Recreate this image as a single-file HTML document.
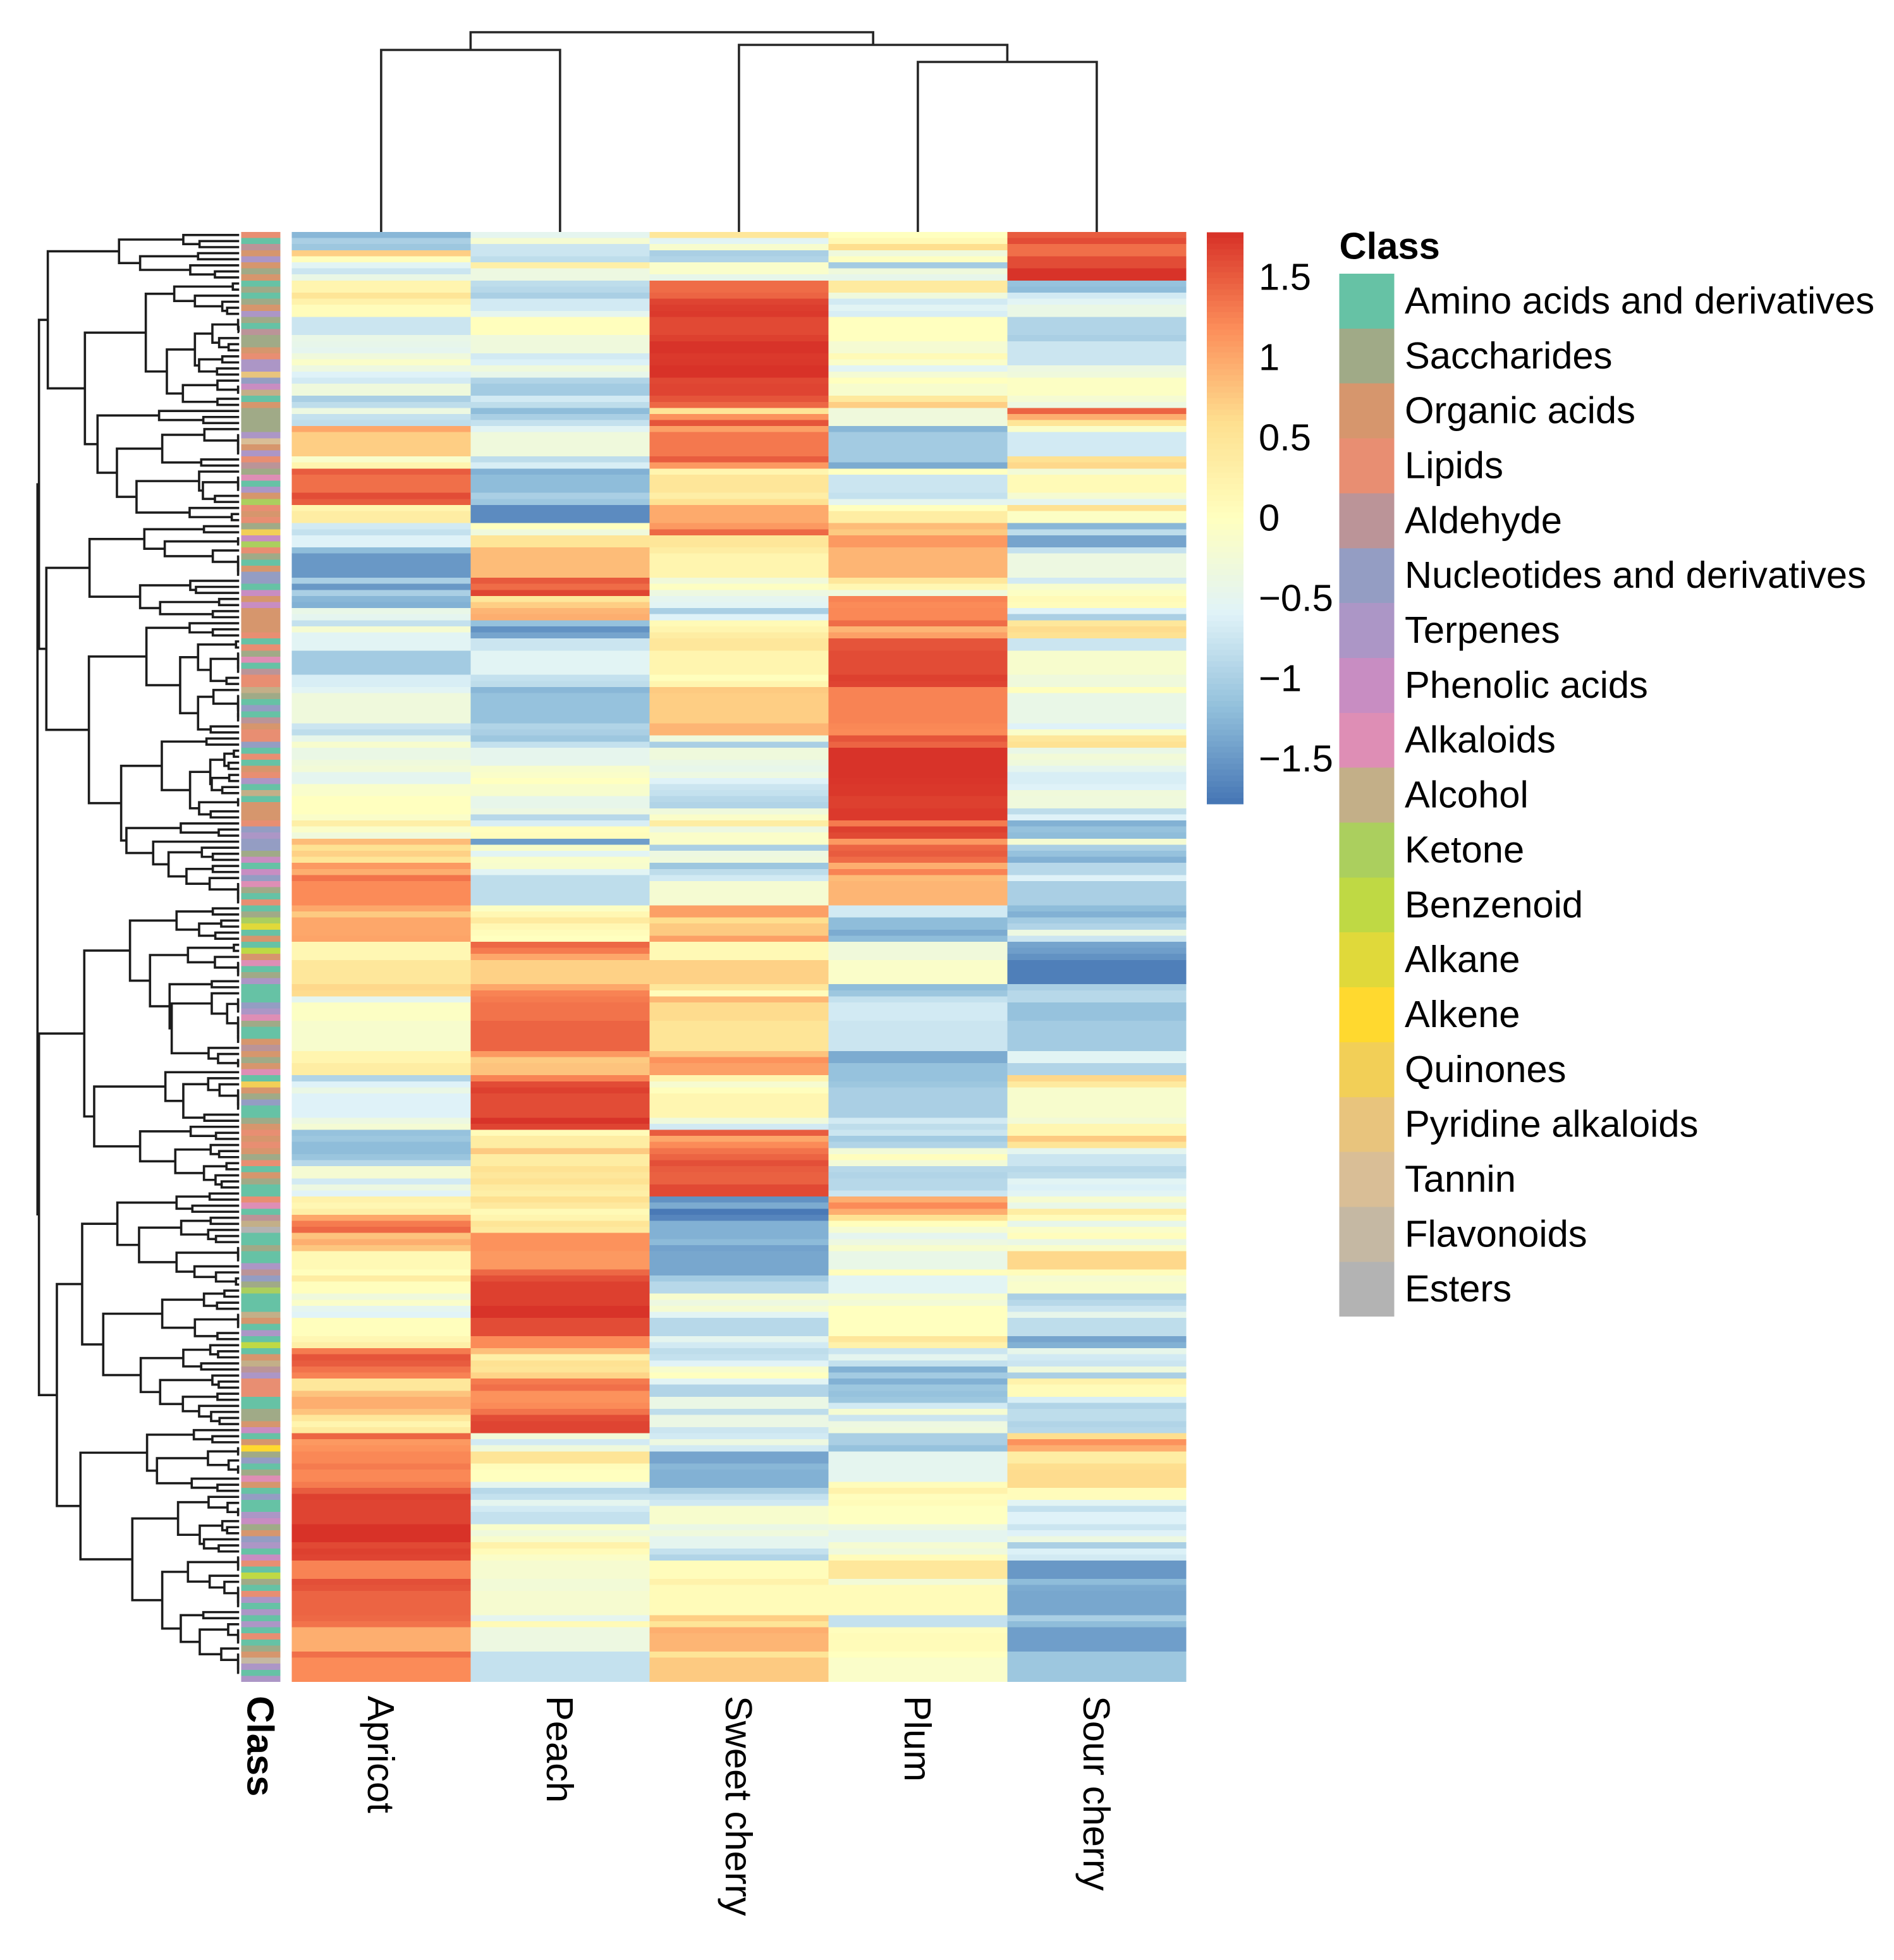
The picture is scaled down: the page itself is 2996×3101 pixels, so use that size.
<!DOCTYPE html>
<html lang="en">
<head>
<meta charset="utf-8">
<title>Fruit metabolite clustered heatmap</title>
<style>
html,body{margin:0;padding:0;background:#fff;}
svg{display:block;font-family:"Liberation Sans",Arial,sans-serif;}
</style>
</head>
<body>
<svg id="chart" xmlns="http://www.w3.org/2000/svg" width="2996" height="3101" viewBox="0 0 2996 3101">
<rect x="0" y="0" width="2996" height="3101" fill="#ffffff"/>
<g id="col-tree"></g>
<g id="row-tree"></g>
<g id="annotation"></g>
<g id="cells"></g>
<g id="col-labels"></g>
<g id="colorbar"></g>
<g id="legend"></g>
</svg>
<script>
var columnLabels = ["Apricot","Peach","Sweet cherry","Plum","Sour cherry"];
var classNames = ["Amino acids and derivatives","Saccharides","Organic acids","Lipids","Aldehyde","Nucleotides and derivatives","Terpenes","Phenolic acids","Alkaloids","Alcohol","Ketone","Benzenoid","Alkane","Alkene","Quinones","Pyridine alkaloids","Tannin","Flavonoids","Esters"];
var classColors = ["#66C2A5","#A0AA87","#D6966D","#E88E72","#BB9498","#949DC3","#AC96C6","#C88DC2","#DE8EB5","#C3AF88","#ABCF5E","#BFD944","#E0D93A","#FFD92F","#F2CF57","#E8C47D","#D9BE96","#C5B8A3","#B3B3B3"];
var scaleColors = ["#4575B4","#91BFDB","#E0F3F8","#FFFFBF","#FEE090","#FC8D59","#D73027"];
var scaleTicks = [1.5,1,0.5,0,-0.5,-1,-1.5];
var scaleTickLabels = ["1.5","1","0.5","0","\u22120.5","\u22121","\u22121.5"];
var scaleLimit = 1.78;

var rowClasses = [
3,0,4,2,6,2,1,2,0,1,
0,1,2,6,1,0,4,1,1,2,
3,6,6,15,5,7,9,0,2,1,
1,1,1,6,16,2,6,3,4,1,
8,0,6,2,10,3,2,3,1,14,
7,10,3,1,0,2,5,5,0,7,
2,7,2,2,2,2,3,0,3,1,
8,0,4,3,3,9,1,0,5,0,
4,2,3,3,5,0,3,0,2,3,
6,0,9,0,2,2,2,3,5,6,
5,5,1,7,0,7,5,8,1,0,
3,0,1,10,12,0,2,0,11,2,
8,0,1,6,0,0,0,5,6,8,
1,0,0,2,4,2,1,2,8,0,
14,2,1,5,0,0,1,2,3,2,
3,2,1,3,0,2,1,0,0,3,
8,0,4,9,18,0,0,1,0,0,
6,4,5,1,10,0,0,0,9,2,
0,6,0,11,0,2,9,4,6,3,
3,3,0,0,1,1,2,7,0,2,
13,1,5,0,1,8,2,0,5,0,
0,6,7,1,2,5,6,0,7,3,
0,11,1,0,3,6,0,6,0,6,
0,3,0,1,2,17,6,0,6];

var apricot = [
-1.25,-1,-1.1,.72,.03,-.55,-.75,-.4,.2,.2,
.5,.25,.05,.05,-.75,-.75,-.75,-.42,-.45,-.5,
-.3,-.1,-.35,-.6,-.7,-.3,-.3,-1,-.85,-.35,
-.8,-.85,1,.72,.72,.72,.72,-.12,.2,1.5,
1.38,1.38,1.38,1.6,1.5,.2,.35,.35,-.7,-.8,
-.6,-.6,-1.2,-1.5,-1.5,-1.5,-1.5,-1,-1.5,-1,
-1.25,-1.3,-.42,-.5,-.8,-.2,-.55,-.55,-.55,-1.05,
-1.05,-1.05,-1.05,-.65,-.65,-.55,-.3,-.3,-.3,-.3,
-.3,-.75,-.85,-.45,-.15,-.4,-.4,-.3,-.25,-.5,
-.5,-.12,-.12,0,0,0,-.1,.3,-.1,-.3,
.85,.55,.7,.5,1.1,.95,1.35,1.2,1.2,1.2,
1.2,1,.75,1,1,1,1.02,.15,.15,.15,
.45,.45,.45,.45,.65,.62,-.5,-.05,-.05,-.05,
-.15,-.15,-.15,-.15,-.15,.2,.2,.35,.35,-.95,
-.6,-.4,-.6,-.6,-.6,-.6,-.35,-.22,-1.15,-1.1,
-1.2,-1.2,-1.12,-.9,-.2,-.2,-.7,-.35,-.58,.25,
.15,.3,1,1.3,1.42,.8,.95,.78,.12,.12,
.12,.02,.35,.02,.02,-.3,-.1,-.5,-.58,.02,
.02,.02,.15,.3,1.3,1.55,1.5,1.35,1.25,.45,
.45,.8,.95,.95,.8,.45,.2,.4,1.45,1.1,
1.15,1.22,1.22,1.3,1.22,1.22,1.3,1.5,1.68,1.65,
1.65,1.65,1.65,1.77,1.77,1.77,1.62,1.68,1.65,1.25,
1.25,1.25,1.58,1.55,1.45,1.45,1.45,1.45,1.42,1.35,
.95,.95,.95,.95,1.38,1.2,1.2,1.2,1.2];

var peach = [
-.5,-.2,-.75,-.75,-.85,.3,-.35,-.35,-.85,-.9,
-1,-.7,-.7,-.5,.02,.02,.02,-.3,-.3,-.3,
-.7,-.62,-.3,-.45,-.95,-1.05,-1.05,-.7,-.85,-1.2,
-1,-.8,-.55,-.3,-.3,-.3,-.3,-.85,-.65,-1.3,
-1.2,-1.2,-1.2,-1,-1.1,-1.6,-1.6,-1.6,0,-.3,
.5,.5,.85,.85,.85,.85,.85,1.52,1.4,1.65,
.45,.72,.9,.95,-1.15,-1.55,-1.4,-.75,-.75,-.55,
-.55,-.55,-.55,-.8,-.85,-1.25,-1.15,-1.15,-1.15,-1.15,
-1.15,-.95,-1,-1.1,-.8,-.48,-.48,-.48,-.15,-.1,
0,-.15,-.15,-.45,-.45,-.35,-.9,-.65,.02,.05,
-1.45,-.1,-.55,-.12,-.15,-.55,-.85,-.85,-.85,-.85,
-.85,-.05,.15,.4,.15,.05,0,1.42,1.3,1,
.7,.7,.7,.7,1,1.25,1.3,1.35,1.35,1.35,
1.45,1.45,1.45,1.45,1.45,1.1,.75,.8,.8,1.25,
1.6,1.68,1.6,1.6,1.6,1.6,1.76,1.65,.08,.35,
.35,.75,.35,.35,.55,.45,.55,.38,.3,.58,
.42,.1,.2,.5,.4,1.15,1.15,1.15,1.1,1.1,
1.1,1.42,1.58,1.68,1.68,1.68,1.68,1.76,1.76,1.6,
1.6,1.6,1.2,1.2,.82,.3,.55,.5,.68,1.3,
1.38,1.15,1.15,1.2,1.35,1.6,1.65,1.65,-.25,-.7,
-.3,.5,.5,.05,0,0,-.5,-.9,-.8,-.5,
-.7,-.8,-.8,-.12,-.3,-.15,.25,.08,-.08,-.18,
-.18,-.18,-.25,-.25,-.18,-.18,-.18,-.18,-.5,.1,
-.35,-.35,-.35,-.35,-.8,-.8,-.8,-.8,-.8];

var sweetCherry = [
.45,-.55,-.15,-1,-.95,-.12,-.12,-.45,1.4,1.4,
1.45,1.65,1.7,1.72,1.62,1.62,1.62,1.68,1.76,1.76,
1.72,1.73,1.77,1.77,1.63,1.65,1.65,1.55,1.42,.5,
1.15,1.55,1.05,1.32,1.32,1.32,1.32,1.5,1.1,.2,
.48,.48,.48,.32,.55,.98,.98,.98,1.1,1.42,
.48,.48,.35,.2,.2,.2,.2,-.28,-.03,-.35,
-.5,-.55,-1,-.6,.1,.2,.35,.45,.45,.2,
.2,.2,.2,.02,.2,.75,.72,.72,.72,.72,
.72,.9,.9,-.3,-1,-.3,-.3,-.4,-.45,-.35,
-.6,-.75,-.8,-.9,-.95,-.3,-.1,.35,-.35,-.1,
-.1,-1,-.35,-.3,-1.1,-.85,-.7,-.2,-.2,-.2,
-.2,1.05,1.05,.6,.75,.75,1.05,.12,.12,.12,
.7,.7,.7,.7,.45,.05,.88,.62,.62,.62,
.5,.5,.5,.5,.5,.8,1.15,1.05,1.05,.2,
-.18,.02,.18,.18,.18,.18,-.3,-.7,1.5,1,
1.2,1.35,1.45,1.58,1.5,1.47,1.47,1.62,1.62,-1.55,
-1.35,-1.75,-1.65,-1.3,-1.3,-1.3,-1.22,-1.42,-1.38,-1.38,
-1.38,-1.38,-1.05,-.9,-.9,-.15,-.35,-.2,-.55,-.9,
-.9,-.9,-.5,-.7,-.85,-.8,-.58,-.15,0,-.55,
-.95,-.95,-.4,-.4,-.85,-.38,-.38,-.75,-.7,-.35,
-.7,-1.4,-1.4,-1.25,-1.3,-1.3,-1.3,-1,-.8,-.72,
-.15,-.15,-.15,-.4,-.3,-.5,-.5,-.8,-.95,.05,
.05,.05,.25,.08,.08,.08,.08,.08,.72,.5,
.95,.9,.9,.9,.5,.75,.75,.75,.75];

var plum = [
0,.12,.6,-.3,-.03,-1.05,-.3,-.45,.4,.4,
-.3,-.7,-.55,-.65,0,0,0,0,-.2,-.2,
.1,-.1,-.55,-.22,0,-.15,-.15,.42,.72,-.3,
-.3,-.3,-1.25,-1.05,-1.05,-1.05,-1.05,-1.05,-1.35,-.02,
-.75,-.75,-.75,-.8,-.5,0,.35,.35,.85,.75,
1.1,1.1,.9,.9,.9,.9,.9,.45,.15,-.3,
1.25,1.2,1.22,1.22,1.4,.9,1.05,1.55,1.55,1.6,
1.6,1.6,1.6,1.68,1.65,1.25,1.25,1.25,1.25,1.25,
1.25,1.22,1.2,1.55,1.45,1.76,1.76,1.76,1.76,1.76,
1.75,1.73,1.73,1.68,1.68,1.72,1.72,1.3,1.68,1.62,
1.1,1.45,1.5,1.4,.95,1.25,.85,.9,.9,.9,
.9,-.7,-.7,-1.2,-1.2,-1.35,-1.2,-.28,-.28,-.28,
-.1,-.1,-.1,-.1,-1.2,-1.1,-.8,-.7,-.7,-.7,
-.75,-.75,-.75,-.75,-.75,-1.35,-1.35,-1.15,-1.15,-1.15,
-1.1,-1,-1,-1,-1,-1,-.7,-.85,-.75,-1.05,
-.95,-.25,.03,-.25,-.9,-.95,-.9,-.9,-.75,.95,
1.2,.95,.55,.02,-.2,-.5,-.35,-.15,-.42,-.42,
-.42,.03,-.55,-.55,-.55,-.15,-.25,0,0,0,
0,0,.45,.25,-.75,-.5,-.8,-1.3,-1.05,-1.3,
-1.1,-1.15,-1.1,-.7,-.2,-.75,-.35,-.3,-1,-1,
-1.15,-.5,-.5,-.5,-.5,-.5,.05,.25,.03,.08,
-.02,-.02,-.02,-.35,-.5,-.5,-.2,-.3,.05,.45,
.45,.45,-.25,.08,.08,.08,.08,.08,-.8,-.8,
.03,.08,.08,.08,0,-.1,-.1,-.1,-.1];

var sourCherry = [
1.5,1.6,1.38,1.38,1.6,1.6,1.76,1.76,-1.15,-1.2,
-.7,-.55,-.4,-.4,-.95,-.95,-.95,-1,-.75,-.75,
-.75,-.75,-.35,-.3,-.05,-.05,-.05,-.2,-.35,1.45,
.95,.5,-.1,-.7,-.7,-.7,-.7,.55,.65,-.25,
.1,.1,.1,-.2,-.5,.55,-.05,-.05,-1.25,-.85,
-1.4,-1.4,-.8,-.35,-.35,-.35,-.35,-.7,-.15,-.05,
.1,.05,-.6,-1,.45,.62,.55,-.75,-.75,-.15,
-.15,-.15,-.15,-.3,-.3,.02,-.42,-.42,-.42,-.42,
-.42,-.6,-.1,.45,.55,-.42,-.25,-.3,-.5,-.65,
-.65,-.6,-.28,-.3,-.3,-.85,-.6,-1.3,-1.15,-1.2,
-.2,-1,-1.15,-1.3,-.9,-.9,-.6,-1,-1,-1,
-1,-1.2,-1.3,-1.05,-.95,-.35,-.75,-1.4,-1.45,-1.55,
-1.7,-1.7,-1.7,-1.7,-1,-.9,-.9,-1.15,-1.15,-1.15,
-1.05,-1.05,-1.05,-1.05,-1.05,-.55,-.55,-.95,-.95,.65,
.4,-.15,-.15,-.15,-.15,-.15,-.25,.18,.18,.75,
.5,-.5,-.75,-.75,-.9,-.85,-.55,-.62,-.55,-.18,
-.42,.35,.07,-.45,-.1,.03,-.4,-.12,.65,.65,
.65,.05,-.2,-.12,-.12,-1,-.9,-.75,-.45,-.85,
-.85,-.85,-1.4,-1.3,-.45,-.7,-.75,-.3,-1,.25,
.08,.08,-.65,-.95,-.85,-.85,-.95,-.9,.6,1.15,
.95,.35,.35,.6,.62,.62,.62,.05,.05,-.55,
-.8,-.6,-.6,-.75,-.6,-.35,-1,-.62,-.7,-1.5,
-1.5,-1.5,-1.2,-1.35,-1.38,-1.38,-1.38,-1.38,-1,-1.2,
-1.45,-1.45,-1.45,-1.45,-1.1,-1.1,-1.1,-1.1,-1.1];

/* Row tree: [mergeHeight, first, second]; 0 = leaf, consumed in row order */
var rowTreeUpper = [950,
  [908,
    [570,[265,0,[188,0,0]],[470,[195,0,0],[232,0,[115,0,0]]]],
    [732,
      [443,
        [308,[30,0,0],[210,0,[80,0,[57,0,0]]]],
        [343,
          [210,[127,[5,0,[3,0,0]],[95,0,[50,0,0]]],[190,[80,0,0],[105,0,0]]],
          [267,[103,0,[5,0,0]],[103,0,0]]]],
      [672,
        [380,0,[170,0,0]],
        [580,
          [365,[165,0,[5,0,[5,0,[5,0,0]]]],[180,0,0]],
          [487,[190,0,[172,[5,0,[5,0,0]],[115,0,0]]],[235,0,[35,0,0]]]]]]],
  [915,
    [710,
      [450,[167,0,0],[353,[5,0,0],[125,0,[5,0,[5,0,[5,0,0]]]]]],
      [470,[232,0,[205,0,0]],[375,[95,0,0],[125,0,0]]]],
    [713,
      [440,
        [235,0,[125,0,0]],
        [280,
          [195,[15,0,0],[135,[5,0,[5,0,[5,0,0]]],[60,0,0]]],
          [195,[122,0,[5,0,[5,[5,0,0],[5,0,0]]]],[135,0,0]]]],
      [560,
        [367,
          [155,0,0],
          [233,
            [137,[70,[25,0,0],[50,0,0]],[130,[47,0,0],[80,0,0]]],
            [190,[5,0,0],[135,0,0]]]],
        [535,
          [277,0,[97,0,0]],
          [408,0,[335,[177,0,[125,0,0]],[250,[125,0,0],[140,0,[5,0,[5,0,[5,0,0]]]]]]]]]]]];

var rowTreeLower = [950,
  [735,
    [518,
      [297,[125,0,0],[190,[85,0,0],[113,0,0]]],
      [423,
        [243,[25,0,0],[115,0,[5,0,[5,0,0]]]],
        [330,
          [130,0,0],
          [320,
            [130,0,[57,[5,0,[5,0,0]],[5,0,[5,0,[5,0,[5,0,0]]]]]],
            [145,0,[100,0,[5,0,0]]]]]]],
    [688,
      [350,0,[265,[147,0,[93,0,[5,0,[5,0,[5,0,0]]]]],[165,0,0]]],
      [470,
        [230,0,[110,0,0]],
        [303,
          [135,0,[95,0,0]],
          [167,[60,0,0],[112,0,[83,0,0]]]]]]],
  [865,
    [745,
      [578,
        [297,[140,0,0],[222,0,0]],
        [475,
          [275,[135,0,0],[147,0,[110,0,0]]],
          [297,[5,0,[5,0,0]],[212,0,[110,0,[15,0,0]]]]]],
      [645,
        [365,
          [167,[70,0,0],[105,0,0]],
          [210,[5,0,[5,0,0]],[103,0,0]]],
        [467,
          [265,[137,0,[100,0,0]],[180,0,0]],
          [375,
            [127,0,[97,0,0]],
            [267,[103,0,0],[190,0,[133,0,[93,0,0]]]]]]]],
    [753,
      [437,
        [215,0,[127,0,0]],
        [390,
          [148,[5,0,0],[50,0,[5,0,0]]],
          [225,0,[103,0,0]]]],
      [507,
        [290,
          [145,0,[55,0,[5,0,0]]],
          [187,[80,0,[57,0,0]],[167,0,[97,0,0]]]],
        [365,
          [243,[5,0,[5,0,0]],[140,0,[70,0,[5,0,[5,0,[5,0,0]]]]]],
          [277,
            [170,0,0],
            [187,[52,0,[5,0,[5,0,0]]],[85,0,[5,0,[5,0,[5,0,0]]]]]]]]]]];

var rowTreeRootHeight = 957;

/* Column tree: merge heights */
var columnTree = [316,[288,0,0],[296,0,[269,0,0]]];

/* ---------- layout + scales ---------- */
var NS = "http://www.w3.org/2000/svg";
var seriesList = [apricot, peach, sweetCherry, plum, sourCherry];
var rowCount = rowClasses.length;
var plotLeft = 461.4, plotTop = 367, colWidth = 283.0, plotHeight = 2294;
var rowHeight = plotHeight / rowCount;
var leafX = 378.3, rowTreeUnit = 1 / 3;
var FONT = 59.7;

function xScale(k){ return plotLeft + colWidth * k; }
function yScale(i){ return plotTop + rowHeight * i; }
function rowTreeX(h){ return leafX - h * rowTreeUnit; }
function colTreeY(h){ return plotTop - h; }
function hexRgb(h){ return [parseInt(h.substr(1,2),16),parseInt(h.substr(3,2),16),parseInt(h.substr(5,2),16)]; }
function colorScale(v){
  var t = (Math.max(-scaleLimit, Math.min(scaleLimit, v)) + scaleLimit) / (2 * scaleLimit) * (scaleColors.length - 1);
  var a = Math.min(Math.floor(t), scaleColors.length - 2), f = t - a;
  var c1 = hexRgb(scaleColors[a]), c2 = hexRgb(scaleColors[a + 1]);
  return "rgb(" + Math.round(c1[0] + (c2[0] - c1[0]) * f) + "," + Math.round(c1[1] + (c2[1] - c1[1]) * f) + "," + Math.round(c1[2] + (c2[2] - c1[2]) * f) + ")";
}
function svgEl(tag, parent, attrs){
  var e = document.createElementNS(NS, tag);
  for (var k in attrs) e.setAttribute(k, attrs[k]);
  parent.appendChild(e);
  return e;
}

/* heatmap cells */
var cellsG = document.getElementById("cells");
seriesList.forEach(function(series, k){
  series.forEach(function(v, i){
    var el = svgEl("rect", cellsG, {x: xScale(k), y: yScale(i), width: colWidth, height: rowHeight, fill: colorScale(v), "shape-rendering": "crispEdges"});
    
    
  });
});

/* annotation strip */
var annG = document.getElementById("annotation");
rowClasses.forEach(function(c, i){
  var el = svgEl("rect", annG, {x: 381.5, y: yScale(i), width: 62, height: rowHeight, fill: classColors[c], "shape-rendering": "crispEdges"});
  
  
});

/* row dendrogram */
var rowTreeG = document.getElementById("row-tree");
var leafCursor = 0;
function drawRowNode(node){
  if (node === 0) {
    var leaf = leafCursor++;
    return {y: yScale(leaf) + rowHeight / 2, x: leafX};
  }
  var a = drawRowNode(node[1]), b = drawRowNode(node[2]);
  return drawRowBranch(node[0], a, b);
}
function drawRowBranch(h, a, b){
  var x = rowTreeX(h);
  var el = svgEl("path", rowTreeG, {d: "M" + a.x + " " + a.y + "H" + x + "V" + b.y + "H" + b.x, fill: "none", stroke: "#1c1c1c", "stroke-width": 3.6});
  
  
  return {x: x, y: (a.y + b.y) / 2};
}
var upperNode = drawRowNode(rowTreeUpper);
var lowerNode = drawRowNode(rowTreeLower);
drawRowBranch(rowTreeRootHeight, upperNode, lowerNode);

/* column dendrogram */
var colTreeG = document.getElementById("col-tree");
var colCursor = 0;
function drawColNode(node){
  if (node === 0) {
    var idx = colCursor++;
    return {x: xScale(idx) + colWidth / 2, y: plotTop};
  }
  var a = drawColNode(node[1]), b = drawColNode(node[2]);
  var y = colTreeY(node[0]);
  var el = svgEl("path", colTreeG, {d: "M" + a.x + " " + a.y + "V" + y + "H" + b.x + "V" + b.y, fill: "none", stroke: "#262626", "stroke-width": 3.6});
  
  
  return {x: (a.x + b.x) / 2, y: y};
}
drawColNode(columnTree);

/* column labels */
var labelG = document.getElementById("col-labels");
function verticalLabel(text, cx, bold, name){
  var bx = cx - 21, by = 2683;
  var el = svgEl("text", labelG, {x: bx, y: by, "font-size": FONT, fill: "#000", transform: "rotate(90 " + bx + " " + by + ")"});
  if (bold) el.setAttribute("font-weight", "bold");
  el.textContent = text;
  
  
}
verticalLabel("Class", 412.5, true, "annotation-axis-label");
columnLabels.forEach(function(t, k){
  verticalLabel(t, xScale(k) + colWidth / 2, false, "column-label");
});

/* colour bar */
var cbG = document.getElementById("colorbar");
var cbX = 1909, cbW = 58, cbTop = 367.5, cbBottom = 1272, cbSteps = 100;
function cbY(v){ return 819 - v * 254; }
for (var s = 0; s < cbSteps; s++) {
  var v0 = scaleLimit - 2 * scaleLimit * (s + 0.5) / cbSteps;
  var sh = (cbBottom - cbTop) / cbSteps;
  var seg = svgEl("rect", cbG, {x: cbX, y: cbTop + s * sh, width: cbW, height: sh + 0.6, fill: colorScale(v0), "shape-rendering": "crispEdges"});
  
  
}
scaleTicks.forEach(function(v, i){
  var t = svgEl("text", cbG, {x: 1991, y: cbY(v) + 20.5, "font-size": FONT, fill: "#000"});
  t.textContent = scaleTickLabels[i];
  
  
});

/* legend */
var legG = document.getElementById("legend");
var legX = 2118.5, legTop = 433, legStep = 86.85;
var legTitle = svgEl("text", legG, {x: legX, y: 409.5, "font-size": FONT, "font-weight": "bold", fill: "#000"});
legTitle.textContent = "Class";


classNames.forEach(function(name, i){
  var sw = svgEl("rect", legG, {x: legX, y: legTop + i * legStep, width: 87, height: legStep, fill: classColors[i], "shape-rendering": "crispEdges"});
  
  
  var tx = svgEl("text", legG, {x: 2222, y: legTop + (i + 0.5) * legStep + 19.5, "font-size": FONT, fill: "#000"});
  tx.textContent = name;
  
  
});
</script>
</body>
</html>
